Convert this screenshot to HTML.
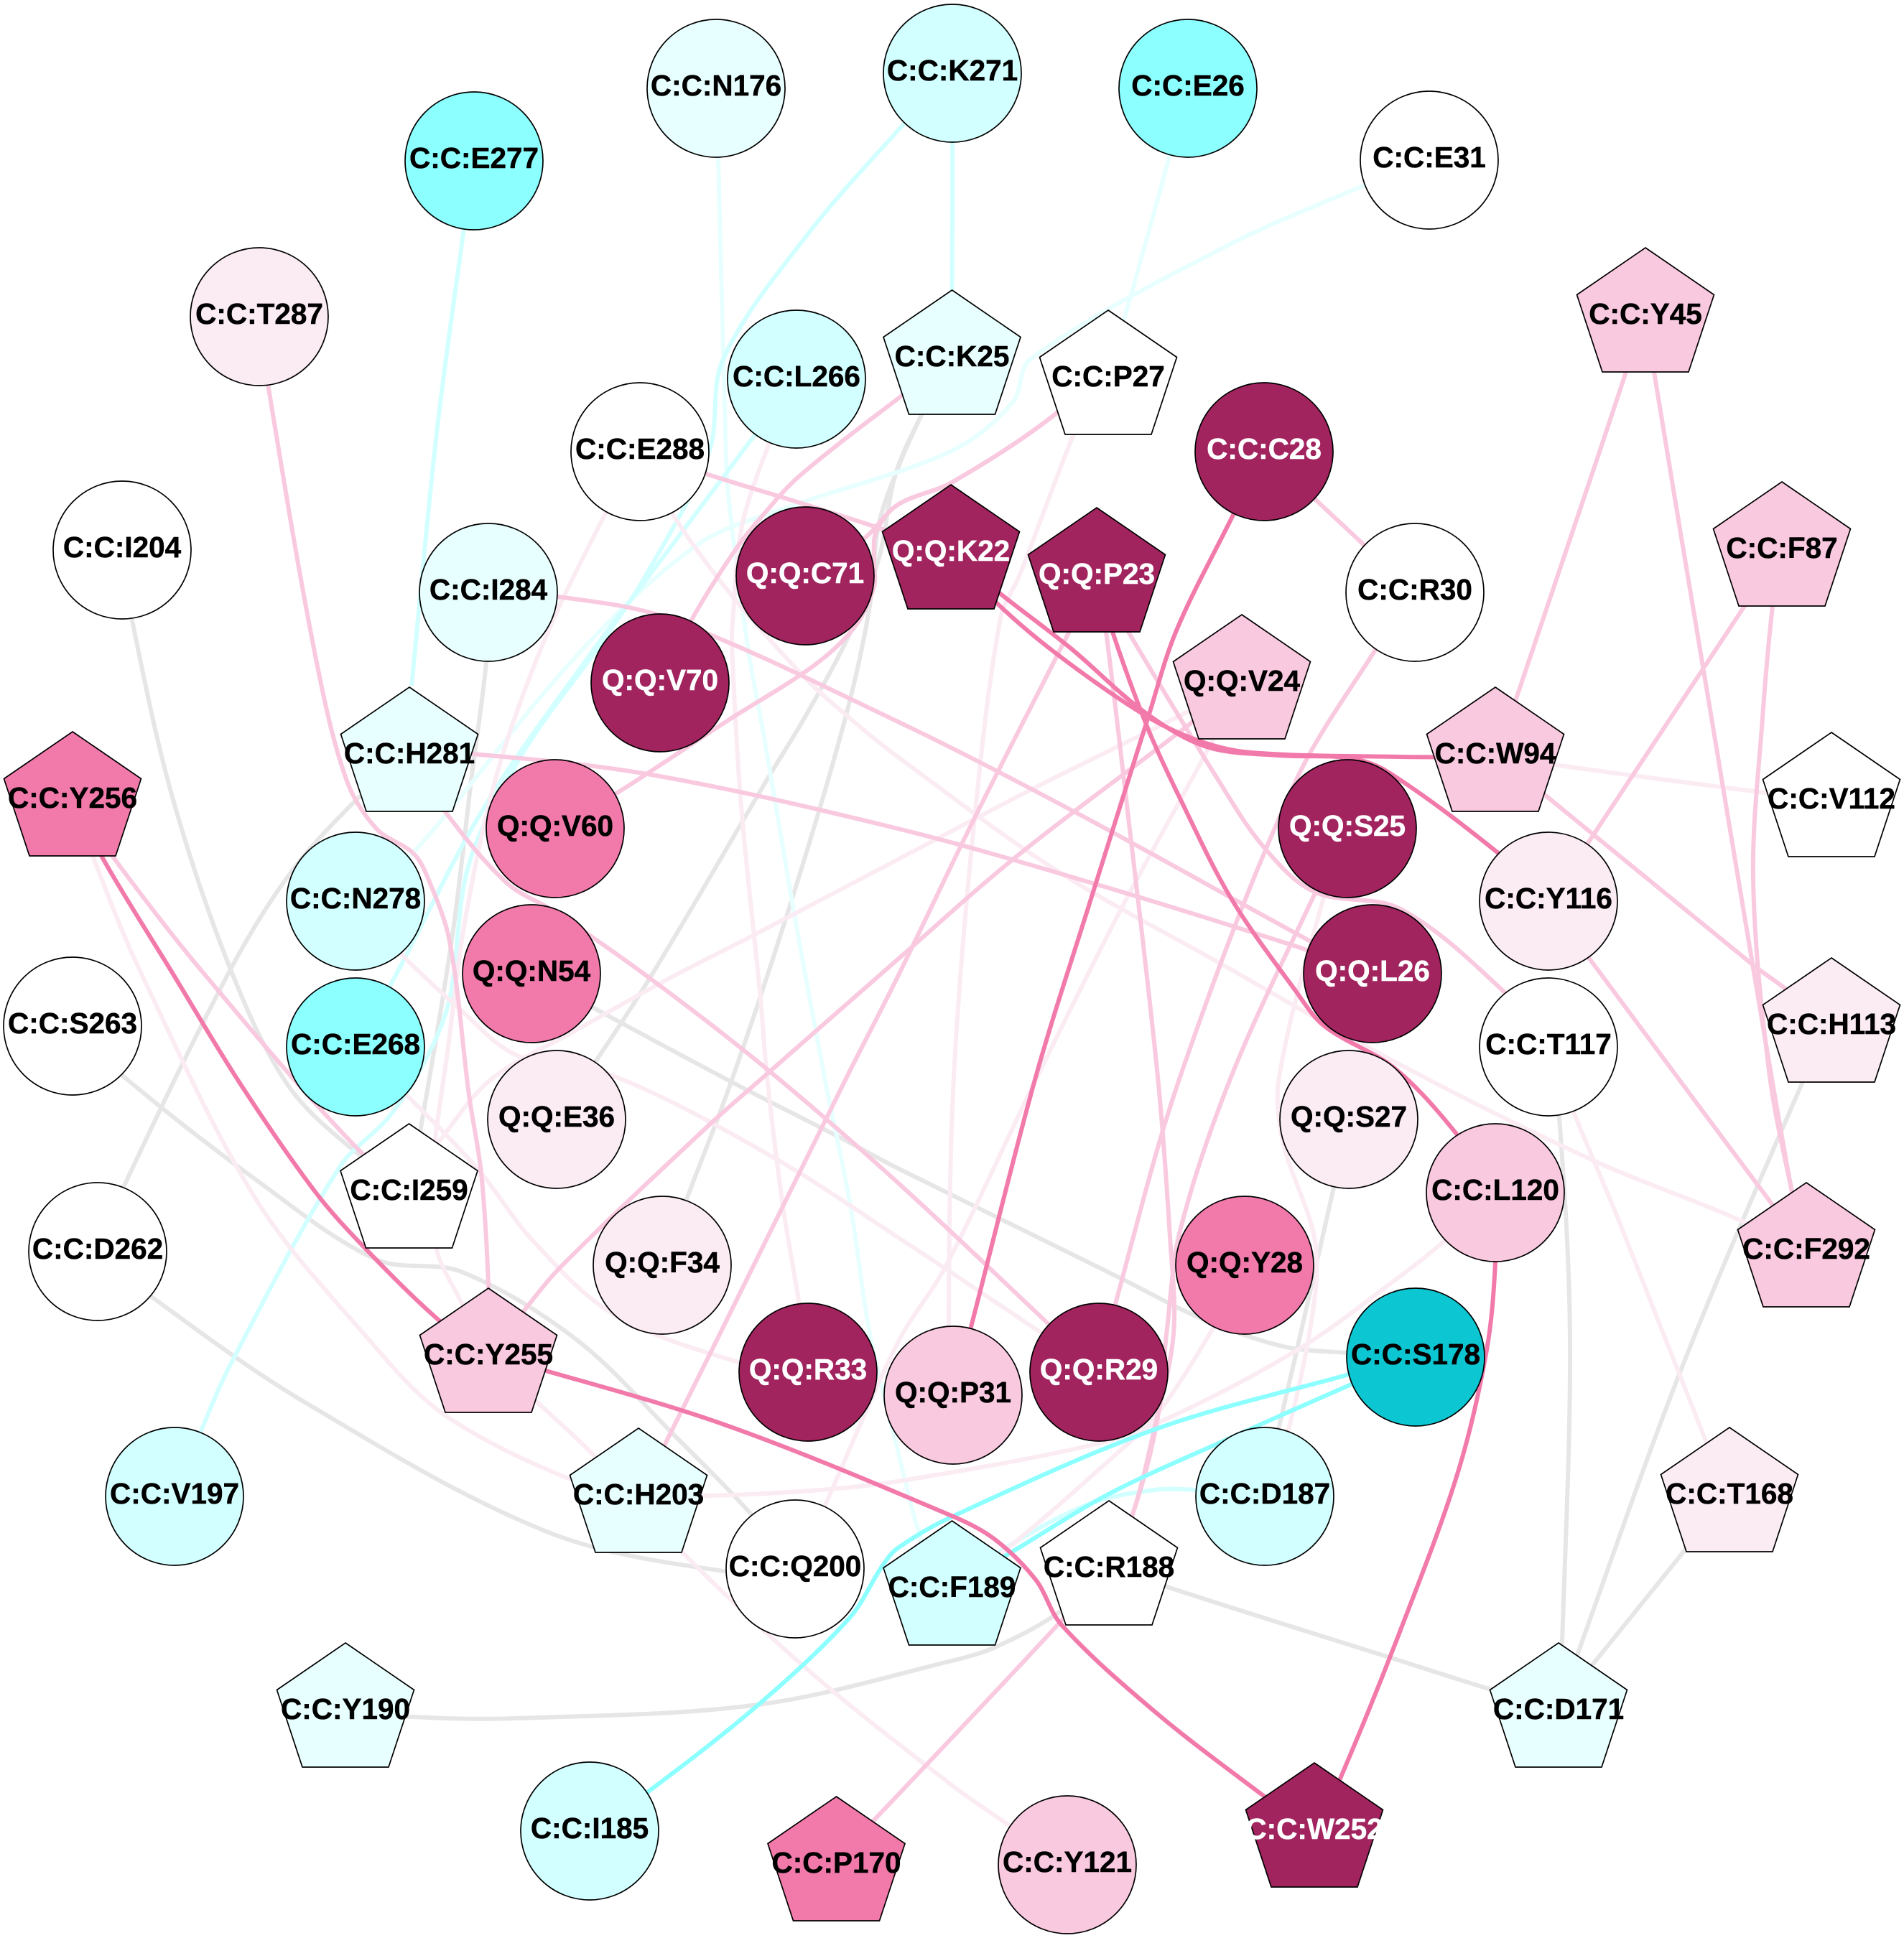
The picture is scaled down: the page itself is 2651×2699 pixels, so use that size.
<!DOCTYPE html>
<html><head><meta charset="utf-8"><style>
html,body{margin:0;padding:0;background:#fff}
svg{display:block}
.e polyline,.e path{fill:none;stroke-width:6;stroke-linejoin:round;stroke-linecap:butt}
.g *{stroke:#e6e6e6}.lp *{stroke:#fbebf3}.mp *{stroke:#f9c9df}.dp *{stroke:#f27aab}
.c1 *{stroke:#e8ffff}.c2 *{stroke:#d2ffff}.c3 *{stroke:#8cffff}
.n circle,.n polygon{stroke:#000;stroke-width:1.7}
.n text{font-family:"Liberation Sans",sans-serif;font-weight:bold;font-size:40.5px;text-anchor:middle;fill:#000;stroke:#000;stroke-width:.5}
.w{fill:#fff}.a{fill:#e8ffff}.b{fill:#d2ffff}.c{fill:#8cffff}.t{fill:#0cc6d2}.l{fill:#fbebf3}.m{fill:#f9c9df}.d{fill:#f27aab}.k{fill:#a1245f}
.n text.x{fill:#fff;stroke:#fff}
</style></head><body>
<svg xmlns="http://www.w3.org/2000/svg" width="2651" height="2699" viewBox="0 0 2651 2699">
<rect width="2651" height="2699" fill="#fff"/>
<g class="e g">
<polyline points="170,766 184,864 240,1110 321,1350 400,1510 490,1600 569,1650"/>
<polyline points="680,825 677,922 657,1079 630,1302 586,1570 569,1650"/>
<polyline points="570,1050 499,1111 405,1215 321,1350 173,1651 136,1743"/>
<polyline points="101,1429 173,1500 355,1642 524,1754 642,1771 803,1866 940,2000 1048,2111 1107,2185"/>
<polyline points="136,1743 211,1806 423,1952 761,2133 1014,2189 1107,2185"/>
<polyline points="481,2380 575,2391 718,2393 1056,2374 1325,2313 1388,2293 1478,2243 1544,2180"/>
<polyline points="1544,2180 1625,2210 1950,2313 2073,2352 2170,2380"/>
<polyline points="2408,2080 2345,2160 2220,2315 2170,2380"/>
<polyline points="2549,1430 2509,1509 2340,1909 2196,2305 2170,2380"/>
<polyline points="2156,1458 2171,1556 2186,1866 2175,2288 2170,2380"/>
<polyline points="740,1356 827,1404 1019,1507 1175,1587 1250,1627 1562,1781 1670,1835 1786,1875 1875,1884 1971,1890"/>
<polyline points="1878,1559 1857,1654 1808,1870 1781,1987 1761,2084"/>
<polyline points="1325,500 1283,578 1247,660 1223,733 1210,850 1177,1000 1104,1248 1019,1504 956,1670 922,1762"/>
<polyline points="1325,500 1283,578 1247,660 1223,780 1183,883 1120,1000 1072,1079 898,1373 775,1559"/>
</g>
<g class="e c1">
<polyline points="997,123 1000,220 1010,603 1014,689 1041,900 1065,1033 1103,1257 1148,1500 1184,1679 1211,1857 1246,2004 1290,2165 1325,2210"/>
<polyline points="1990,223 1900,258 1705,344 1435,500 1410,560 1325,628 1098,706 972,758 803,913 575,1188 495,1255"/>
<polyline points="1654,123 1625,230 1575,410 1543,520"/>
</g>
<g class="e c2">
<polyline points="660,224 646,318 608,603 573,955"/>
<polyline points="1326,102 1326,300 1325,500"/>
<polyline points="1109,528 1050,607 900,807 827,904 675,1123 550,1360 495,1458"/>
<polyline points="1326,102 1259,172 1124,327 1007,500 987,630 900,800 831,904 729,1047 653,1203 626,1391 591,1479 541,1556 473,1625 321,1900 279,1995 243,2084"/>
<polyline points="1761,2084 1665,2075 1607,2075 1518,2094 1406,2152 1325,2210"/>
</g>
<g class="e lp">
<polyline points="2082,1050 2164,1065 2450,1103 2550,1115"/>
<polyline points="2156,1458 2191,1549 2254,1700 2374,2004 2408,2080"/>
<polyline points="891,629 937,717 1017,827 1120,943 1183,1000 1250,1054 1469,1211 1696,1340 1950,1483 2218,1616 2396,1688 2515,1740"/>
<polyline points="1109,528 1070,620 1033,733 1020,867 1019,900 1032,1123 1059,1391 1068,1500 1090,1679 1112,1812 1125,1911"/>
<polyline points="891,629 841,719 760,887 693,1074 648,1279 625,1450 600,1650 608,1741 644,1817 680,1890"/>
<polyline points="101,1110 131,1197 194,1350 355,1668 507,1858 617,1969 794,2060 889,2080"/>
<polyline points="1729,950 1656,990 1437,1099 1250,1197 1050,1302 929,1364 800,1436 684,1503 612,1589 569,1650"/>
<polyline points="495,1458 568,1527 666,1629 742,1728 854,1830 1028,1897 1125,1911"/>
<polyline points="495,1255 559,1329 639,1404 720,1470 858,1500 1077,1612 1250,1723 1451,1857 1530,1911"/>
<polyline points="680,1890 746,1951 827,2027 951,2163 1130,2330 1325,2486 1405,2542 1486,2597"/>
<polyline points="889,2080 979,2083 1130,2076 1250,2063 1518,2013 1620,1978 1808,1879 1950,1777 2010,1729 2082,1661"/>
<polyline points="1543,500 1494,607 1420,800 1393,861 1357,1139 1328,1500 1321,1844 1327,1943"/>
<polyline points="1729,950 1687,1034 1562,1264 1442,1504 1317,1763 1250,1870 1148,2098 1107,2185"/>
<polyline points="1733,1762 1687,1853 1612,1969 1571,2010 1402,2157 1325,2210"/>
<polyline points="1876,1154 1844,1246 1781,1500 1786,1589 1830,1723 1830,1812 1795,1987 1761,2084"/>
</g>
<g class="e mp">
<polyline points="361,441 373,535 439,913 482,1085 524,1154 575,1188 595,1221 626,1311 653,1525 670,1634 680,1790 680,1890"/>
<polyline points="570,1050 657,1050 907,1079 1250,1154 1518,1229 1817,1322 1911,1356"/>
<polyline points="680,825 777,831 930,861 1250,1005 1495,1130 1821,1309 1911,1356"/>
<polyline points="891,629 983,660 1113,700 1217,733 1324,770"/>
<polyline points="1325,500 1257,550 1113,663 1060,720 1023,767 963,863 919,951"/>
<polyline points="1543,500 1469,577 1325,672 1250,703 1220,740 1217,783 1217,817 1190,873 1133,927 1014,1003 858,1105 773,1154"/>
<polyline points="1543,500 1469,577 1325,672 1250,703 1203,750 1121,802"/>
<polyline points="2291,430 2303,518 2383,1000 2441,1348 2495,1660 2515,1740"/>
<polyline points="2481,760 2468,844 2454,1000 2441,1223 2463,1491 2495,1660 2515,1740"/>
<polyline points="2291,430 2264,518 2111,973 2082,1050"/>
<polyline points="2481,760 2429,844 2213,1171 2156,1255"/>
<polyline points="2082,1050 2151,1107 2441,1344 2486,1377 2549,1430"/>
<polyline points="2156,1255 2213,1335 2468,1678 2515,1740"/>
<polyline points="1970,825 1760,629"/>
<polyline points="1970,825 1915,905 1803,1090 1643,1500 1554,1812 1530,1911"/>
<polyline points="680,1890 729,1826 782,1763 987,1567 1063,1500 1250,1336 1415,1193 1661,1005 1729,950"/>
<polyline points="1527,800 1487,883 1357,1139 1250,1360 1179,1500 1086,1688 925,2013 889,2080"/>
<polyline points="1527,800 1540,880 1567,1104 1612,1500 1629,1723 1634,1857 1607,1991 1576,2112 1544,2180"/>
<polyline points="1527,800 1571,880 1696,1086 1759,1179 1830,1242 1950,1266 2097,1384 2156,1458"/>
<polyline points="570,1050 621,1132 706,1230 773,1270 907,1364 1068,1489 1250,1647 1460,1844 1530,1911"/>
<polyline points="1164,2590 1250,2500 1478,2257 1544,2180"/>
<polyline points="1876,1154 1830,1246 1714,1500 1643,1714 1625,1850 1610,1985 1576,2112 1544,2180"/>
<polyline points="101,1110 160,1197 279,1350 498,1600 569,1650"/>
</g>
<g class="e c3">
<polyline points="1971,1890 1875,1915 1607,1991 1326,2112 1250,2156 1229,2180 1183,2253 1056,2374 904,2494 821,2550"/>
<polyline points="1971,1890 1879,1929 1710,2004 1545,2080 1411,2160 1325,2210"/>
</g>
<g class="e dp">
<polyline points="1760,629 1718,715 1638,878 1598,1001 1518,1255 1442,1500 1353,1844 1327,1943"/>
<polyline points="1324,770 1388,840 1473,912 1594,996 1670,1032 1741,1048 1950,1054 2082,1054"/>
<polyline points="1324,770 1393,827 1491,903 1594,992 1680,1040 1780,1052 1880,1056 1934,1076 2086,1188 2156,1255"/>
<polyline points="1527,800 1549,880 1598,1014 1643,1112 1714,1251 1804,1380 1844,1429 1942,1488 2027,1578 2082,1661"/>
<polyline points="101,1110 144,1197 237,1350 335,1510 439,1660 507,1737 608,1836 680,1890"/>
<polyline points="680,1890 760,1909 1014,1986 1325,2111 1384,2143 1442,2200 1478,2263 1607,2383 1754,2497 1830,2550"/>
<polyline points="2082,1661 2082,1759 2070,1880 2030,2050 1950,2270 1866,2477 1830,2550"/>
</g>
<g class="n">
<g transform="translate(660,224)"><circle r="96" class="c"/><text y="10">C:C:E277</text></g>
<g transform="translate(997,123)"><circle r="96" class="a"/><text y="10">C:C:N176</text></g>
<g transform="translate(1326,102)"><circle r="96" class="b"/><text y="10">C:C:K271</text></g>
<g transform="translate(361,441)"><circle r="96" class="l"/><text y="10">C:C:T287</text></g>
<g transform="translate(1109,528)"><circle r="96" class="b"/><text y="10">C:C:L266</text></g>
<g transform="translate(891,629)"><circle r="96" class="w"/><text y="10">C:C:E288</text></g>
<g transform="translate(170,766)"><circle r="96" class="w"/><text y="10">C:C:I204</text></g>
<g transform="translate(680,825)"><circle r="96" class="a"/><text y="10">C:C:I284</text></g>
<g transform="translate(919,951)"><circle r="96" class="k"/><text y="10" class="x">Q:Q:V70</text></g>
<g transform="translate(1121,802)"><circle r="96" class="k"/><text y="10" class="x">Q:Q:C71</text></g>
<g transform="translate(773,1154)"><circle r="96" class="d"/><text y="10">Q:Q:V60</text></g>
<g transform="translate(495,1255)"><circle r="96" class="b"/><text y="10">C:C:N278</text></g>
<g transform="translate(740,1356)"><circle r="96" class="d"/><text y="10">Q:Q:N54</text></g>
<g transform="translate(495,1458)"><circle r="96" class="c"/><text y="10">C:C:E268</text></g>
<g transform="translate(101,1429)"><circle r="96" class="w"/><text y="10">C:C:S263</text></g>
<g transform="translate(775,1559)"><circle r="96" class="l"/><text y="10">Q:Q:E36</text></g>
<g transform="translate(922,1762)"><circle r="96" class="l"/><text y="10">Q:Q:F34</text></g>
<g transform="translate(136,1743)"><circle r="96" class="w"/><text y="10">C:C:D262</text></g>
<g transform="translate(1125,1911)"><circle r="96" class="k"/><text y="10" class="x">Q:Q:R33</text></g>
<g transform="translate(243,2084)"><circle r="96" class="b"/><text y="10">C:C:V197</text></g>
<g transform="translate(1107,2185)"><circle r="96" class="w"/><text y="10">C:C:Q200</text></g>
<g transform="translate(821,2550)"><circle r="96" class="b"/><text y="10">C:C:I185</text></g>
<g transform="translate(1654,123)"><circle r="96" class="c"/><text y="10">C:C:E26</text></g>
<g transform="translate(1990,223)"><circle r="96" class="w"/><text y="10">C:C:E31</text></g>
<g transform="translate(1760,629)"><circle r="96" class="k"/><text y="10" class="x">C:C:C28</text></g>
<g transform="translate(1970,825)"><circle r="96" class="w"/><text y="10">C:C:R30</text></g>
<g transform="translate(1876,1154)"><circle r="96" class="k"/><text y="10" class="x">Q:Q:S25</text></g>
<g transform="translate(2156,1255)"><circle r="96" class="l"/><text y="10">C:C:Y116</text></g>
<g transform="translate(1911,1356)"><circle r="96" class="k"/><text y="10" class="x">Q:Q:L26</text></g>
<g transform="translate(2156,1458)"><circle r="96" class="w"/><text y="10">C:C:T117</text></g>
<g transform="translate(1878,1559)"><circle r="96" class="l"/><text y="10">Q:Q:S27</text></g>
<g transform="translate(2082,1661)"><circle r="96" class="m"/><text y="10">C:C:L120</text></g>
<g transform="translate(1733,1762)"><circle r="96" class="d"/><text y="10">Q:Q:Y28</text></g>
<g transform="translate(1971,1890)"><circle r="96" class="t"/><text y="10">C:C:S178</text></g>
<g transform="translate(1530,1911)"><circle r="96" class="k"/><text y="10" class="x">Q:Q:R29</text></g>
<g transform="translate(1327,1943)"><circle r="96" class="m"/><text y="10">Q:Q:P31</text></g>
<g transform="translate(1761,2084)"><circle r="96" class="b"/><text y="10">C:C:D187</text></g>
<g transform="translate(1486,2597)"><circle r="96" class="m"/><text y="10">C:C:Y121</text></g>

<g transform="translate(570,957)"><polygon points="0,0 95.5,65.5 60,173 -60,173 -95.5,65.5" class="a"/><text y="106">C:C:H281</text></g>
<g transform="translate(101,1019)"><polygon points="0,0 95.5,65.5 60,173 -60,173 -95.5,65.5" class="d"/><text y="106">C:C:Y256</text></g>
<g transform="translate(1325.5,404)"><polygon points="0,0 95.5,65.5 60,173 -60,173 -95.5,65.5" class="a"/><text y="106">C:C:K25</text></g>
<g transform="translate(1543,432)"><polygon points="0,0 95.5,65.5 60,173 -60,173 -95.5,65.5" class="w"/><text y="106">C:C:P27</text></g>
<g transform="translate(1324,675)"><polygon points="0,0 95.5,65.5 60,173 -60,173 -95.5,65.5" class="k"/><text y="106" class="x">Q:Q:K22</text></g>
<g transform="translate(1527,707)"><polygon points="0,0 95.5,65.5 60,173 -60,173 -95.5,65.5" class="k"/><text y="106" class="x">Q:Q:P23</text></g>
<g transform="translate(1729,856)"><polygon points="0,0 95.5,65.5 60,173 -60,173 -95.5,65.5" class="m"/><text y="106">Q:Q:V24</text></g>
<g transform="translate(2291,345)"><polygon points="0,0 95.5,65.5 60,173 -60,173 -95.5,65.5" class="m"/><text y="106">C:C:Y45</text></g>
<g transform="translate(2481,671)"><polygon points="0,0 95.5,65.5 60,173 -60,173 -95.5,65.5" class="m"/><text y="106">C:C:F87</text></g>
<g transform="translate(2082,957)"><polygon points="0,0 95.5,65.5 60,173 -60,173 -95.5,65.5" class="m"/><text y="106">C:C:W94</text></g>
<g transform="translate(2550,1020)"><polygon points="0,0 95.5,65.5 60,173 -60,173 -95.5,65.5" class="w"/><text y="106">C:C:V112</text></g>
<g transform="translate(2550,1334)"><polygon points="0,0 95.5,65.5 60,173 -60,173 -95.5,65.5" class="l"/><text y="106">C:C:H113</text></g>
<g transform="translate(2515,1647)"><polygon points="0,0 95.5,65.5 60,173 -60,173 -95.5,65.5" class="m"/><text y="106">C:C:F292</text></g>
<g transform="translate(2408,1988)"><polygon points="0,0 95.5,65.5 60,173 -60,173 -95.5,65.5" class="l"/><text y="106">C:C:T168</text></g>
<g transform="translate(2170,2288)"><polygon points="0,0 95.5,65.5 60,173 -60,173 -95.5,65.5" class="a"/><text y="106">C:C:D171</text></g>
<g transform="translate(1830,2455)"><polygon points="0,0 95.5,65.5 60,173 -60,173 -95.5,65.5" class="k"/><text y="106" class="x">C:C:W252</text></g>
<g transform="translate(1544,2090)"><polygon points="0,0 95.5,65.5 60,173 -60,173 -95.5,65.5" class="w"/><text y="106">C:C:R188</text></g>
<g transform="translate(1325.5,2118)"><polygon points="0,0 95.5,65.5 60,173 -60,173 -95.5,65.5" class="b"/><text y="106">C:C:F189</text></g>
<g transform="translate(569.5,1565)"><polygon points="0,0 95.5,65.5 60,173 -60,173 -95.5,65.5" class="w"/><text y="106">C:C:I259</text></g>
<g transform="translate(680,1794)"><polygon points="0,0 95.5,65.5 60,173 -60,173 -95.5,65.5" class="m"/><text y="106">C:C:Y255</text></g>
<g transform="translate(889,1989)"><polygon points="0,0 95.5,65.5 60,173 -60,173 -95.5,65.5" class="a"/><text y="106">C:C:H203</text></g>
<g transform="translate(481,2288)"><polygon points="0,0 95.5,65.5 60,173 -60,173 -95.5,65.5" class="a"/><text y="106">C:C:Y190</text></g>
<g transform="translate(1164.5,2502)"><polygon points="0,0 95.5,65.5 60,173 -60,173 -95.5,65.5" class="d"/><text y="106">C:C:P170</text></g>
</g>
</svg>
<script>
document.querySelectorAll('.e polyline').forEach(function(l){
  var n=l.getAttribute('points').trim().split(/\s+/).map(function(s){return s.split(',').map(Number)});
  if(n.length<3)return;
  var t=n.map(function(p,i){var a=n[Math.max(i-1,0)],b=n[Math.min(i+1,n.length-1)],x=b[0]-a[0],y=b[1]-a[1],h=Math.hypot(x,y)||1;return[x/h,y/h]});
  var d='M'+n[0].join(' ');
  for(var i=0;i<n.length-1;i++){var p=n[i],q=n[i+1],s=Math.hypot(q[0]-p[0],q[1]-p[1])/3;
    d+='C'+(p[0]+t[i][0]*s).toFixed(1)+' '+(p[1]+t[i][1]*s).toFixed(1)+' '+(q[0]-t[i+1][0]*s).toFixed(1)+' '+(q[1]-t[i+1][1]*s).toFixed(1)+' '+q[0]+' '+q[1];}
  var e=document.createElementNS('http://www.w3.org/2000/svg','path');e.setAttribute('d',d);l.parentNode.replaceChild(e,l);
});
</script>
</body></html>
